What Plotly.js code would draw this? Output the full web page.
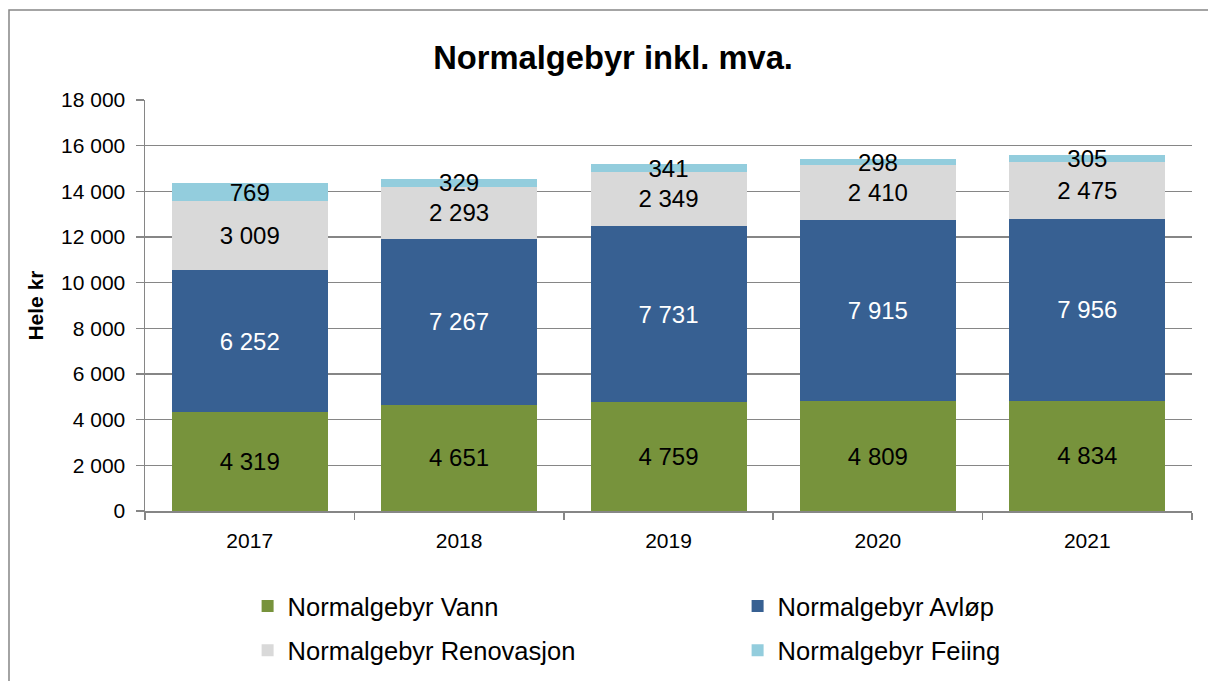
<!DOCTYPE html>
<html><head><meta charset="utf-8">
<script src="https://cdn.plot.ly/plotly-3.0.1.min.js"></script>
<style>html,body{margin:0;padding:0;background:#fff}#chart{width:1208px;height:681px}</style>
</head><body><div id="chart"></div>
<script>
const years = ['2017','2018','2019','2020','2021'];
const vann = [4319, 4651, 4759, 4809, 4834];
const avlop = [6252, 7267, 7731, 7915, 7956];
const renovasjon = [3009, 2293, 2349, 2410, 2475];
const feiing = [769, 329, 341, 298, 305];
const seriesNames = ['Normalgebyr Vann','Normalgebyr Avløp','Normalgebyr Renovasjon','Normalgebyr Feiing'];
const colors = ['#77933C','#376092','#D9D9D9','#93CDDD'];
const legendRefs = ['legend','legend2','legend','legend2'];
const yTicks = [0,2000,4000,6000,8000,10000,12000,14000,16000,18000];

const fmt = v => String(v).replace(/\B(?=(\d{3})+(?!\d))/g,' ');
const FONT = 'Liberation Sans, Arial, sans-serif';

const data = [vann, avlop, renovasjon, feiing].map((vals,i)=>({
  type:'bar', x:years, y:vals, name:seriesNames[i],
  legend: legendRefs[i], legendgroup:'g'+i,
  marker:{color:colors[i], line:{width:0}},
  text: vals.map(fmt), textposition:'inside', insidetextanchor:'middle',
  constraintext:'none',
  textfont:{family:FONT, size:24, color: i===1 ? '#ffffff' : '#000000'},
  hoverinfo:'skip'
}));

const legendCommon = {orientation:'v', xanchor:'left', y:-0.175, yanchor:'top', yref:'paper',
  traceorder:'grouped', tracegroupgap:8, font:{family:FONT, size:25.5, color:'#000'},
  bgcolor:'rgba(0,0,0,0)', borderwidth:0};

const layout = {
  width:1208, height:681,
  margin:{l:145, r:16, t:100, b:170, autoexpand:false},
  paper_bgcolor:'#ffffff', plot_bgcolor:'#ffffff',
  barmode:'stack', bargap:0.255,
  separators:', ',
  font:{family:FONT, color:'#000'},
  title:{text:'<b>Normalgebyr inkl. mva.</b>', x:0.5075, xref:'container', xanchor:'center',
         y:0.915, yref:'container', yanchor:'middle', font:{family:FONT, size:32.7, color:'#000'}},
  xaxis:{type:'category', showline:true, linecolor:'#868686', linewidth:1.5,
         ticks:'outside', tickson:'boundaries', ticklen:7, tickcolor:'#868686', tickwidth:1.5,
         ticklabelstandoff:10,
         tickfont:{family:FONT, size:21, color:'#000'}, showgrid:false, automargin:false},
  yaxis:{range:[0,18000], tickvals:yTicks, ticktext:yTicks.map(fmt),
         showline:true, linecolor:'#868686', linewidth:1.5,
         ticks:'outside', ticklen:8, tickcolor:'#868686', tickwidth:1.5, ticklabelstandoff:6,
         showgrid:true, gridcolor:'#868686', gridwidth:1.5, zeroline:false, automargin:false,
         tickfont:{family:FONT, size:21, color:'#000'}},
  showlegend:true,
  legend: Object.assign({x:0.098}, legendCommon),
  legend2: Object.assign({x:0.566}, legendCommon),
  annotations:[{text:'<b>Hele kr</b>', xref:'paper', yref:'paper', x:-0.105, y:0.5,
                xanchor:'center', yanchor:'middle', textangle:-90, showarrow:false,
                font:{family:FONT, size:21, color:'#000'}}],
  shapes:[{type:'rect', xref:'paper', yref:'paper', x0:-0.1299, x1:1.05, y0:-0.45, y1:1.219,
           line:{color:'#868686', width:1.5}, fillcolor:'rgba(0,0,0,0)'}]
};

Plotly.newPlot('chart', data, layout, {displayModeBar:false, staticPlot:true});
</script></body></html>
